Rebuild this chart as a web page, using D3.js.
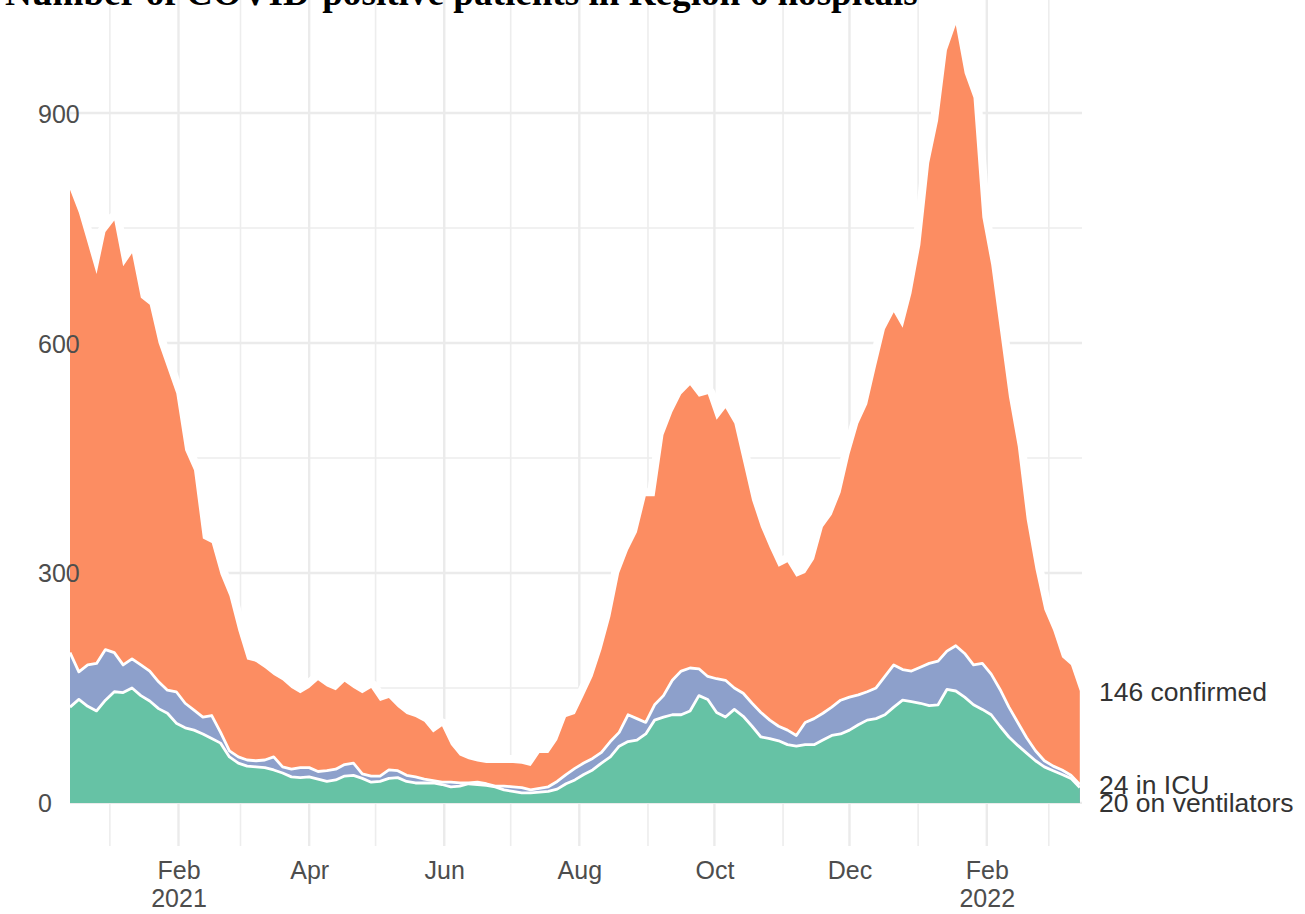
<!DOCTYPE html>
<html>
<head>
<meta charset="utf-8">
<script src="https://cdn.jsdelivr.net/npm/d3@7"></script>
<style>
  body { margin: 0; background: #fff; }
  svg { display: block; }
</style>
</head>
<body>
<script>
// readings every 4 days, starting 14 Dec 2020
var startDate = new Date(2020, 11, 14);
var stepDays = 4;

var confirmed = [800, 770, 730, 690, 745, 760, 700, 717, 659, 650,
  600, 567, 534, 460, 434, 345, 339, 298, 270, 225,
  187, 184, 176, 167, 160, 150, 143, 150, 160, 152,
  147, 158, 150, 143, 150, 133, 137, 125, 116, 112,
  106, 92, 100, 76, 62, 57, 54, 52, 52, 52,
  52, 51, 48, 65, 65, 82, 112, 116, 140, 165,
  200, 243, 300, 330, 353, 400, 400, 480, 510, 533,
  545, 530, 533, 500, 515, 495, 445, 395, 360, 333,
  308, 314, 295, 300, 318, 360, 376, 405, 455, 495,
  520, 570, 618, 640, 620, 665, 728, 835, 890, 982,
  1015, 952, 920, 764, 702, 616, 530, 465, 370, 305,
  252, 225, 190, 180, 146];

var icu = [196, 171, 180, 182, 200, 196, 180, 188, 180, 172,
  158, 147, 145, 130, 121, 112, 114, 92, 68, 60,
  56, 55, 56, 60, 47, 44, 46, 46, 41, 42,
  44, 50, 52, 38, 35, 35, 43, 42, 36, 34,
  31, 29, 27, 27, 26, 26, 27, 25, 22, 22,
  21, 20, 17, 19, 21, 28, 37, 45, 52, 58,
  66, 80, 92, 115, 110, 105, 128, 140, 160, 172,
  176, 175, 165, 162, 160, 150, 143, 130, 118, 108,
  100, 95, 88, 105, 110, 117, 125, 134, 138, 141,
  145, 150, 165, 180, 174, 172, 177, 182, 185, 198,
  205, 195, 180, 182, 168, 148, 125, 105, 85, 68,
  55, 48, 43, 36, 24];

var vent = [125, 135, 126, 120, 134, 145, 144, 150, 140, 133,
  123, 117, 104, 98, 95, 90, 84, 78, 60, 52,
  48, 47, 46, 43, 39, 34, 33, 34, 31, 28,
  30, 35, 36, 32, 27, 28, 32, 33, 28, 26,
  26, 26, 24, 21, 22, 25, 24, 23, 21, 17,
  15, 13, 13, 14, 15, 18, 25, 30, 37, 43,
  52, 60, 74, 80, 82, 90, 108, 112, 115, 115,
  120, 140, 135, 118, 112, 122, 113, 100, 86, 84,
  81, 76, 74, 76, 76, 82, 88, 90, 95, 102,
  108, 110, 115, 125, 134, 132, 130, 127, 128, 148,
  146, 138, 128, 122, 115, 100, 86, 75, 65, 55,
  47, 42, 37, 32, 20];

var seriesLabels = ["146 confirmed", "24 in ICU", "20 on ventilators"];
var seriesColors = ["#FC8D62", "#8DA0CB", "#66C2A5"];

var yTicks = [0, 300, 600, 900];
var yMinor = [150, 450, 750];
var xTicks = [new Date(2021, 1, 1), new Date(2021, 3, 1), new Date(2021, 5, 1),
  new Date(2021, 7, 1), new Date(2021, 9, 1), new Date(2021, 11, 1), new Date(2022, 1, 1)];
var xMinor = [new Date(2021, 0, 1), new Date(2021, 2, 1), new Date(2021, 4, 1),
  new Date(2021, 6, 1), new Date(2021, 8, 1), new Date(2021, 10, 1),
  new Date(2022, 0, 1), new Date(2022, 2, 1)];
var xTickLabels = [["Feb", "2021"], ["Apr"], ["Jun"], ["Aug"], ["Oct"], ["Dec"], ["Feb", "2022"]];

var title = "Number of COVID-positive patients in Region 6 hospitals";

var w = 1305, h = 914;

var dates = confirmed.map(function(v, i) {
  return d3.timeDay.offset(startDate, i * stepDays);
});

var rows = dates.map(function(d, i) {
  return {date: d, confirmed: confirmed[i], icu: icu[i], vent: vent[i]};
});

var x = d3.scaleTime()
  .domain([dates[0], d3.timeDay.offset(dates[dates.length - 1], 1)])
  .range([70, 1082]);

var y = d3.scaleLinear()
  .domain([-51, 1071])
  .range([842, -18]);

var svg = d3.select("body")
  .append("svg")
  .attr("width", w)
  .attr("height", h);

// grid
var grid = svg.append("g");
grid.selectAll(".hminor").data(yMinor).enter().append("line")
  .attr("x1", 70).attr("x2", 1082)
  .attr("y1", function(d) { return y(d); }).attr("y2", function(d) { return y(d); })
  .attr("stroke", "#EDEDED").attr("stroke-width", 1.6);
grid.selectAll(".vminor").data(xMinor).enter().append("line")
  .attr("x1", function(d) { return x(d); }).attr("x2", function(d) { return x(d); })
  .attr("y1", -18).attr("y2", 846)
  .attr("stroke", "#EDEDED").attr("stroke-width", 1.6);
grid.selectAll(".hmajor").data(yTicks).enter().append("line")
  .attr("x1", 70).attr("x2", 1082)
  .attr("y1", function(d) { return y(d); }).attr("y2", function(d) { return y(d); })
  .attr("stroke", "#EBEBEB").attr("stroke-width", 2.4);
grid.selectAll(".vmajor").data(xTicks).enter().append("line")
  .attr("x1", function(d) { return x(d); }).attr("x2", function(d) { return x(d); })
  .attr("y1", -18).attr("y2", 846)
  .attr("stroke", "#EBEBEB").attr("stroke-width", 2.4);

var areaOf = function(key) {
  return d3.area()
    .x(function(d) { return x(d.date); })
    .y0(y(0))
    .y1(function(d) { return y(d[key]); });
};
var lineOf = function(key) {
  return d3.line()
    .x(function(d) { return x(d.date); })
    .y(function(d) { return y(d[key]); });
};

// white halo round the confirmed area
svg.append("path")
  .datum(rows)
  .attr("d", lineOf("confirmed"))
  .attr("fill", "none")
  .attr("stroke", "white")
  .attr("stroke-width", 16)
  .attr("stroke-linejoin", "round");

svg.append("path")
  .datum(rows)
  .attr("d", areaOf("confirmed"))
  .attr("fill", seriesColors[0]);

["icu", "vent"].forEach(function(key, i) {
  svg.append("path")
    .datum(rows)
    .attr("d", areaOf(key))
    .attr("fill", seriesColors[i + 1]);
  svg.append("path")
    .datum(rows)
    .attr("d", lineOf(key))
    .attr("fill", "none")
    .attr("stroke", "white")
    .attr("stroke-width", 2.8)
    .attr("stroke-linejoin", "round");
});

// axes
var yAxis = svg.append("g")
  .call(d3.axisLeft(y).tickValues(yTicks).tickSize(0).tickFormat(d3.format("d")));
yAxis.select(".domain").remove();
yAxis.selectAll("text")
  .attr("x", 38)
  .attr("dy", "0.36em")
  .attr("text-anchor", "start")
  .attr("fill", "#4D4D4D")
  .style("font-family", "'Liberation Sans', Arial, sans-serif")
  .style("font-size", "25px");

var xAxis = svg.append("g")
  .attr("transform", "translate(0,851)")
  .call(d3.axisBottom(x).tickValues(xTicks).tickSize(0).tickFormat(""));
xAxis.select(".domain").remove();
xAxis.selectAll(".tick text")
  .attr("y", 0)
  .attr("dy", 0)
  .attr("fill", "#4D4D4D")
  .style("font-family", "'Liberation Sans', Arial, sans-serif")
  .style("font-size", "25px")
  .each(function(d, i) {
    var t = d3.select(this);
    xTickLabels[i].forEach(function(s, j) {
      t.append("tspan").attr("x", 0).attr("y", 28 + j * 28).text(s);
    });
  });

// end labels
var last = rows[rows.length - 1];
var labelY = [y(last.confirmed), y(last.icu), y(last.vent) + 15];
svg.selectAll(".endlabel").data(seriesLabels).enter().append("text")
  .attr("x", 1099)
  .attr("y", function(d, i) { return labelY[i]; })
  .attr("dy", "0.36em")
  .attr("fill", "#333333")
  .style("font-family", "'Liberation Sans', Arial, sans-serif")
  .style("font-size", "26.5px")
  .text(function(d) { return d; });

// title, partly off the top of the picture
var t = svg.append("text")
  .attr("x", 5)
  .attr("y", 5)
  .attr("fill", "#000")
  .style("font-family", "'Liberation Serif', 'Times New Roman', serif")
  .style("font-weight", "bold")
  .style("font-size", "32px")
  .text(title);
var tw = t.node().getComputedTextLength();
t.style("font-size", (32 * 913 / tw) + "px");
</script>
</body>
</html>
